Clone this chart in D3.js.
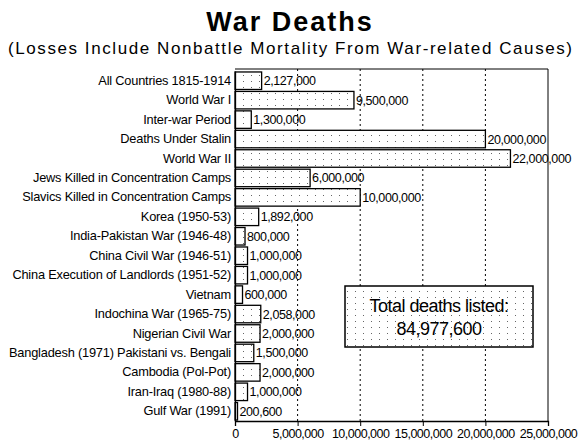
<!DOCTYPE html>
<html><head><meta charset="utf-8">
<script src="https://cdn.jsdelivr.net/npm/d3@7"></script>
<style>body{margin:0;background:#fff}text{font-family:Arial,"Liberation Sans",sans-serif}</style>
</head><body><svg id="c" width="580" height="446"></svg>
<script>
var categories=["All Countries 1815-1914","World War I","Inter-war Period","Deaths Under Stalin","World War II","Jews Killed in Concentration Camps","Slavics Killed in Concentration Camps","Korea (1950-53)","India-Pakistan War (1946-48)","China Civil War (1946-51)","China Execution of Landlords (1951-52)","Vietnam","Indochina War (1965-75)","Nigerian Civil War","Bangladesh (1971) Pakistani vs. Bengali","Cambodia (Pol-Pot)","Iran-Iraq (1980-88)","Gulf War (1991)"];
var deaths=[2127000,9500000,1300000,20000000,22000000,6000000,10000000,1892000,800000,1000000,1000000,600000,2058000,2000000,1500000,2000000,1000000,200600];
var ticks=[0,5000000,10000000,15000000,20000000,25000000];

var svg=d3.select('#c');
var m={l:235,r:548,t:69,b:421};
var defs=svg.append('defs');
var p=defs.append('pattern').attr('id','dots').attr('width',8).attr('height',6).attr('patternUnits','userSpaceOnUse');
p.append('rect').attr('width',8).attr('height',6).attr('fill','#fff');
p.append('rect').attr('x',3).attr('y',3).attr('width',1).attr('height',1).attr('fill','#666');

svg.append('text').attr('x',290).attr('y',31).attr('text-anchor','middle').attr('font-size',27).attr('font-weight','bold').attr('letter-spacing',2).text('War Deaths');
svg.append('text').attr('x',290).attr('y',54).attr('text-anchor','middle').attr('font-size',17).attr('textLength',564).text('(Losses Include Nonbattle Mortality From War-related Causes)');

var x=d3.scaleLinear().domain([0,25000000]).range([m.l,m.r]);
var y=d3.scaleBand().domain(categories).range([m.t+2,m.b]).paddingInner(0.1).paddingOuter(0.05);

svg.selectAll('.grid').data(ticks.slice(1,5)).enter().append('line')
  .attr('x1',d=>x(d)).attr('x2',d=>x(d)).attr('y1',m.t).attr('y2',m.b)
  .attr('stroke','#000').attr('stroke-dasharray','2,3');
svg.append('path').attr('d',`M${m.l},${m.t}H${m.r}V${m.b}`).attr('fill','none').attr('stroke','#000');

svg.selectAll('.bar').data(deaths).enter().append('rect')
  .attr('x',m.l).attr('y',(d,i)=>y(categories[i])).attr('width',d=>x(d)-m.l).attr('height',y.bandwidth())
  .attr('fill','url(#dots)').attr('stroke','#000').attr('stroke-width',1.3);
svg.selectAll('.val').data(deaths).enter().append('text')
  .attr('x',d=>x(d)+2).attr('y',(d,i)=>y(categories[i])+y.bandwidth()/2+4.5)
  .attr('font-size',12.5).attr('letter-spacing',-0.4).text(d=>d3.format(',')(d));

var ya=svg.append('g').attr('transform',`translate(${m.l},0)`).call(d3.axisLeft(y).tickSize(0).tickPadding(4));
ya.select('.domain').attr('stroke','#000').attr('stroke-width',1.3);
ya.selectAll('text').attr('font-size',12.8).attr('font-family','Arial,sans-serif').attr('letter-spacing',-0.2);

var xa=svg.append('g').attr('transform',`translate(0,${m.b})`).call(d3.axisBottom(x).tickValues(ticks).tickFormat(d3.format(',')).tickSize(5));
xa.select('.domain').attr('stroke','#000').attr('stroke-width',1.3);
xa.selectAll('text').attr('font-size',12.5).attr('font-family','Arial,sans-serif').attr('letter-spacing',-0.5);

var box=svg.append('g');
box.append('rect').attr('x',345).attr('y',286).attr('width',188).attr('height',61).attr('fill','url(#dots)').attr('stroke','#000').attr('stroke-width',1.5);
box.append('text').attr('x',439).attr('y',312).attr('text-anchor','middle').attr('font-size',18).attr('letter-spacing',-0.5).text('Total deaths listed:');
box.append('text').attr('x',439).attr('y',335).attr('text-anchor','middle').attr('font-size',18).attr('letter-spacing',-0.5).text(d3.format(',')(d3.sum(deaths)));
</script></body></html>
